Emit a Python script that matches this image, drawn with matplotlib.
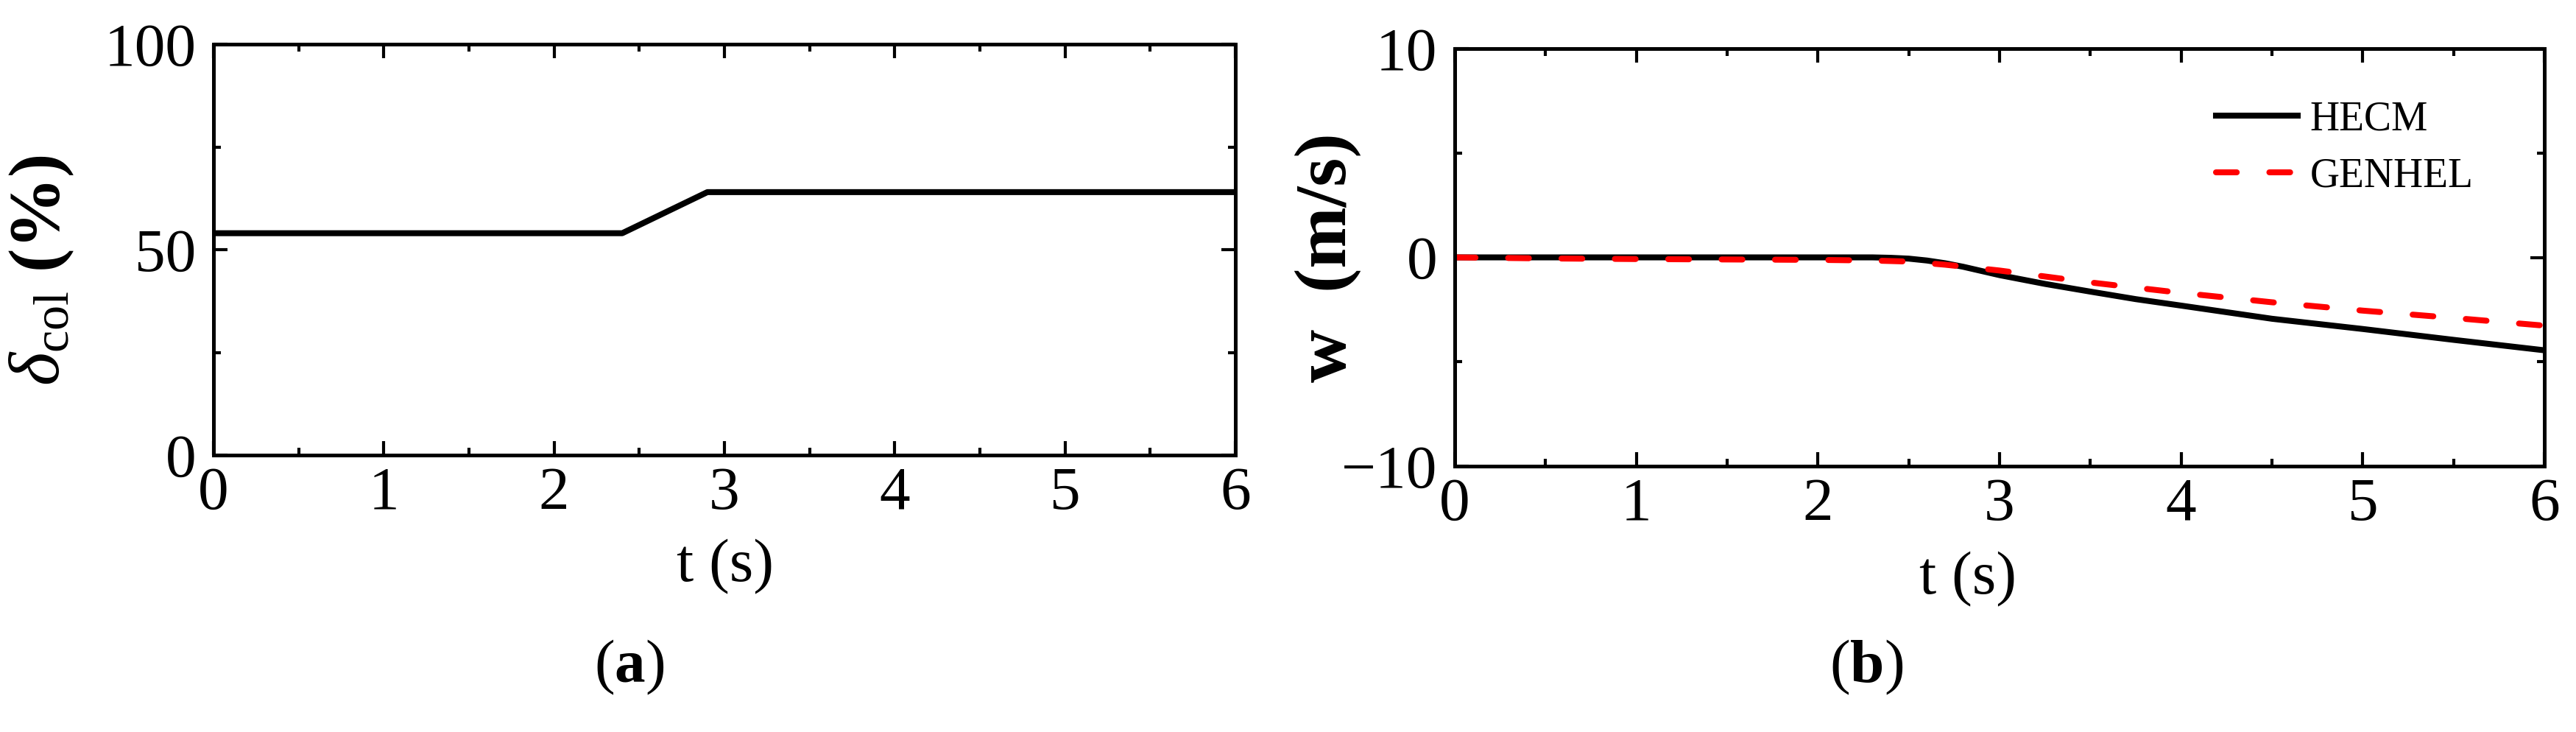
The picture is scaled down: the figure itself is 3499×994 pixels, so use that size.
import matplotlib
matplotlib.use("Agg")
import matplotlib.pyplot as plt
from matplotlib.ticker import MultipleLocator

plt.rcParams['font.family'] = ['Liberation Serif', 'DejaVu Serif']
plt.rcParams['mathtext.fontset'] = 'custom'
plt.rcParams['mathtext.rm'] = 'Liberation Serif'
plt.rcParams['mathtext.it'] = 'Liberation Serif:italic'
plt.rcParams['mathtext.bf'] = 'Liberation Serif:bold'

# (a) collective input
t_col = [0, 2.4, 2.9, 6]
delta_col = [54, 54, 64, 64]

# (b) vertical velocity
t_hecm = [0, 0.5, 1, 1.5, 2, 2.3, 2.4, 2.5, 2.6, 2.7, 2.8, 3.0, 3.25, 3.5, 3.75, 4, 4.5, 5, 5.5, 6]
w_hecm = [0, 0, 0, 0, 0, 0, -0.02, -0.06, -0.15, -0.28, -0.45, -0.85, -1.27, -1.64, -2.0, -2.31,
          -2.94, -3.43, -3.95, -4.45]
t_gen = [0, 0.5, 1, 1.5, 2, 2.3, 2.5, 2.7, 3, 3.5, 4, 4.5, 5, 5.5, 6]
w_gen = [0, -0.05, -0.08, -0.1, -0.12, -0.15, -0.2, -0.35, -0.63, -1.2, -1.7, -2.15, -2.55, -2.9, -3.27]

W, H = 3499, 994
fig = plt.figure(figsize=(W / 100, H / 100), dpi=100)

ax1 = fig.add_axes([290 / W, 1 - 618 / H, 1388 / W, 558 / H])
ax2 = fig.add_axes([1976 / W, 1 - 633 / H, 1480 / W, 567 / H])

fs = 60
lw = 5.8

ax1.plot(t_col, delta_col, color='black', lw=lw)
ax1.set_xlim(0, 6)
ax1.set_ylim(0, 100)
ax1.yaxis.set_major_locator(MultipleLocator(50))
ax1.yaxis.set_minor_locator(MultipleLocator(25))

ax2.plot(t_hecm, w_hecm, color='black', lw=lw, label='HECM')
ax2.plot(t_gen, w_gen, color='red', lw=lw, dashes=(3.5, 5.5), dash_capstyle='round', label='GENHEL')
ax2.set_xlim(0, 6)
ax2.set_ylim(-10, 10)
ax2.yaxis.set_major_locator(MultipleLocator(10))
ax2.yaxis.set_minor_locator(MultipleLocator(5))

for ax in (ax1, ax2):
    ax.xaxis.set_major_locator(MultipleLocator(1))
    ax.xaxis.set_minor_locator(MultipleLocator(0.5))
    for s in ax.spines.values():
        s.set_linewidth(3.6)
    ax.tick_params(which='both', direction='in', top=True, right=True, width=3)
    ax.tick_params(which='major', length=14, labelsize=fs)
    ax.tick_params(which='minor', length=7)
    ax.tick_params(axis='x', which='major', pad=11)
    ax.tick_params(axis='y', which='major', pad=17)

ax1.set_xlabel('t (s)', fontsize=fs)
ax1.xaxis.set_label_coords(0.501, -0.204)
ax1.set_ylabel(r'$\delta_{\mathrm{col}}\ \mathbf{(\%)}$', fontsize=70)
ax1.yaxis.set_label_coords(-0.135, 0.45)

ax2.set_xlabel('t (s)', fontsize=fs)
ax2.xaxis.set_label_coords(0.471, -0.204)
ax2.set_ylabel('w  (m/s)', fontsize=72, fontweight='bold')
ax2.yaxis.set_label_coords(-0.086, 0.5)

ax2.legend(loc='upper right', bbox_to_anchor=(0.935, 0.875), frameon=False, fontsize=40,
           handlelength=2.0, handletextpad=0.3, borderpad=0, borderaxespad=0, labelspacing=0.45)

fig.text(855 / W, 1 - 906 / H, r'($\mathbf{a}$)', fontsize=fs, ha='center', va='center')
fig.text(2535 / W, 1 - 906 / H, r'($\mathbf{b}$)', fontsize=fs, ha='center', va='center')

fig.savefig('out.png', dpi=100)
